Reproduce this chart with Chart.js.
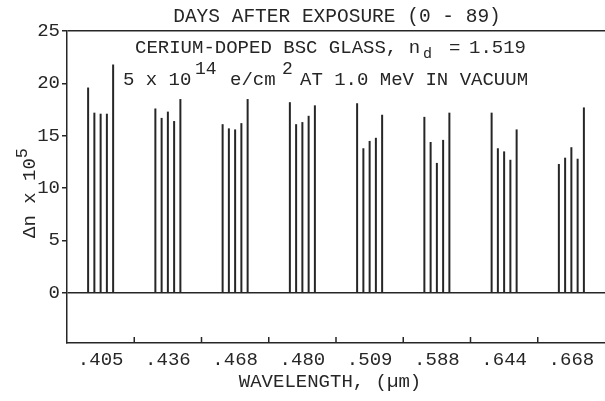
<!DOCTYPE html>
<html>
<head>
<meta charset="utf-8">
<script src="https://cdn.jsdelivr.net/npm/chart.js@4"></script>
<style>
  html, body { margin: 0; padding: 0; background: #ffffff; }
  #wrap { width: 605px; height: 401px; }
</style>
</head>
<body>
<div id="wrap"><canvas id="c" width="605" height="401"></canvas></div>
<script>
// Wavelength categories (µm)
const wavelengths = ['.405', '.436', '.468', '.480', '.509', '.588', '.644', '.668'];
// Δn x 10^5 for five successive measurements (days after exposure, 0 - 89)
const measurement1 = [19.6, 17.6, 16.1, 18.2, 18.1, 16.8, 17.2, 12.3];
const measurement2 = [17.2, 16.7, 15.7, 16.1, 13.8, 14.4, 13.8, 12.9];
const measurement3 = [17.1, 17.3, 15.6, 16.3, 14.5, 12.4, 13.5, 13.9];
const measurement4 = [17.1, 16.4, 16.2, 16.9, 14.8, 14.6, 12.7, 12.8];
const measurement5 = [21.8, 18.5, 18.5, 17.9, 17.0, 17.2, 15.6, 17.7];
const yTickValues = [0, 5, 10, 15, 20, 25];
const seriesNames = ['Measurement 1', 'Measurement 2', 'Measurement 3', 'Measurement 4', 'Measurement 5'];
const seriesValues = [measurement1, measurement2, measurement3, measurement4, measurement5];

const INK = '#262626';
const FONT = 'Liberation Mono';

const textPlugin = {
  id: 'annotText',
  afterDraw(chart) {
    const ctx = chart.ctx;
    const xs = chart.scales.x;
    ctx.save();
    ctx.fillStyle = INK;
    ctx.strokeStyle = INK;

    // inward tick marks on the bottom axis, between categories
    ctx.lineWidth = 1.5;
    const bottom = chart.chartArea.bottom;
    for (let i = 0; i < wavelengths.length - 1; i++) {
      const px = (xs.getPixelForTick(i) + xs.getPixelForTick(i + 1)) / 2;
      ctx.beginPath();
      ctx.moveTo(px, bottom);
      ctx.lineTo(px, bottom - 6);
      ctx.stroke();
    }

    ctx.textBaseline = 'middle';
    const big = '19px "' + FONT + '"';
    const small = '15px "' + FONT + '"';

    // heading above plot
    ctx.font = '19.5px "' + FONT + '"';
    ctx.textAlign = 'center';
    ctx.fillText('DAYS AFTER EXPOSURE (0 - 89)', 337, 17);

    // helper for text pieces at given x positions
    function put(parts, y) {
      ctx.textAlign = 'left';
      for (const p of parts) {
        ctx.font = p.f || big;
        ctx.fillText(p.t, p.x, y + (p.dy || 0));
      }
    }
    put([
      { t: 'CERIUM-DOPED BSC GLASS, n', x: 135 },
      { t: 'd', f: small, dy: 6, x: 423 },
      { t: '=', x: 449 },
      { t: '1.519', x: 469 }
    ], 48);
    put([
      { t: '5 x 10', x: 123 },
      { t: '14', f: '18px "' + FONT + '"', dy: -11, x: 195 },
      { t: 'e/cm', x: 230 },
      { t: '2', f: '18px "' + FONT + '"', dy: -11, x: 282 },
      { t: 'AT 1.0 MeV IN VACUUM', x: 300 }
    ], 80);

    // y-axis title, rotated
    ctx.save();
    ctx.translate(30, 238);
    ctx.rotate(-Math.PI / 2);
    ctx.font = big;
    ctx.textAlign = 'left';
    ctx.fillText('Δn x 10', 0, 0);
    const w = ctx.measureText('Δn x 10').width;
    ctx.font = '17px "' + FONT + '"';
    ctx.fillText('5', w, -8);
    ctx.restore();

    // x-axis title
    ctx.font = big;
    ctx.textAlign = 'center';
    ctx.fillText('WAVELENGTH, (µm)', 330, 382);
    ctx.restore();
  }
};

new Chart(document.getElementById('c'), {
  type: 'bar',
  data: {
    labels: wavelengths,
    datasets: seriesValues.map((vals, i) => ({
      label: seriesNames[i],
      data: vals,
      backgroundColor: INK,
      borderWidth: 0
    }))
  },
  options: {
    responsive: false,
    animation: false,
    devicePixelRatio: 1,
    layout: { padding: { top: 31, right: 0, left: 0, bottom: 0 } },
    plugins: { legend: { display: false }, tooltip: { enabled: false }, title: { display: false } },
    datasets: { bar: { categoryPercentage: 0.465, barPercentage: 0.32 } },
    scales: {
      x: {
        type: 'category',
        offset: true,
        grid: { display: false, drawTicks: false, offset: true },
        border: { display: true, color: INK, width: 1.5 },
        ticks: { color: INK, font: { family: FONT, size: 19 }, padding: 6, maxRotation: 0, autoSkip: false },
        afterFit(scale) { scale.height = 58; }
      },
      y: {
        type: 'linear',
        min: -4.8,
        max: 25,
        afterBuildTicks(scale) { scale.ticks = yTickValues.map(v => ({ value: v })); },
        grid: {
          drawOnChartArea: true,
          drawTicks: true,
          tickLength: 5,
          lineWidth: 1.5,
          color: (c) => (c.tick && (c.tick.value === 0 || c.tick.value === 25)) ? INK : 'rgba(0,0,0,0)',
          tickColor: INK
        },
        border: { display: true, color: INK, width: 1.5 },
        ticks: { color: INK, font: { family: FONT, size: 19 }, padding: 2 },
        afterFit(scale) { scale.width = 67; }
      }
    }
  },
  plugins: [textPlugin]
});
</script>
</body>
</html>
